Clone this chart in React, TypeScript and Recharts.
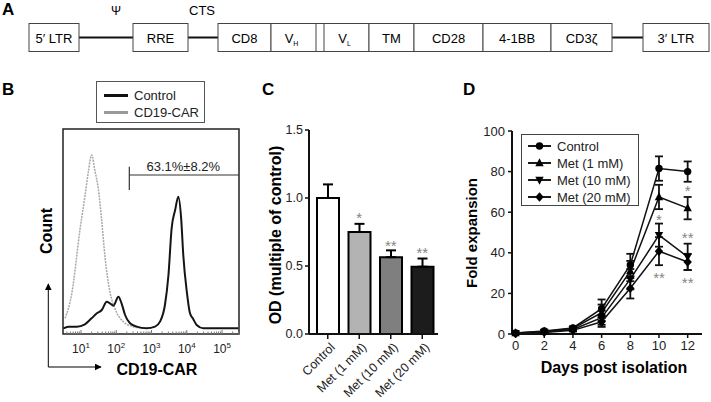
import React from 'react';
import {
  LineChart,
  Line,
  BarChart,
  Bar,
  Cell,
  XAxis,
  YAxis,
  ErrorBar,
  ReferenceArea,
  ReferenceLine,
  ReferenceDot,
  Legend,
} from 'recharts';

const FONT = '"Liberation Sans", Arial, Helvetica, sans-serif';

// ---------- A: vector construct ----------
const partLabels = ['5′ LTR', 'RRE', 'CD8', 'V|H', 'V|L', 'TM', 'CD28', '4-1BB', 'CD3ζ', '3′ LTR'];
const siteLabels = ['Ψ', 'CTS'];

// ---------- B: flow histogram (x = log10 fluorescence) ----------
const cd19Log = [0.55, 0.74, 0.97, 1.11, 1.21, 1.3, 1.4, 1.49, 1.59, 1.68, 1.82, 1.96, 2.2, 2.48, 2.77];
const cd19Count = [30, 105, 295, 395, 470, 520, 470, 420, 320, 215, 110, 60, 20, 5, 0];
const controlLog = [0.5, 0.64, 0.88, 1.11, 1.3, 1.45, 1.59, 1.73, 1.82, 1.92, 2.06, 2.15, 2.25, 2.39, 2.58, 2.86, 3.1, 3.24, 3.38, 3.48, 3.57, 3.67, 3.76, 3.84, 3.9, 4.0, 4.09, 4.17, 4.28, 4.47, 5.46];
const controlCount = [0, 5, 5, 12, 30, 45, 55, 80, 75, 68, 95, 75, 40, 15, 5, 0, 5, 20, 70, 160, 300, 355, 395, 330, 220, 110, 45, 30, 10, 0, 0];
const decades = [1, 2, 3, 4, 5];
const gateLog = 2.37;
const gateText = '63.1%±8.2%';

// ---------- C: OD ----------
const odGroups = ['Control', 'Met (1 mM)', 'Met (10 mM)', 'Met (20 mM)'];
const odMean = [1.0, 0.75, 0.565, 0.495];
const odSem = [0.1, 0.06, 0.05, 0.06];
const odSig = ['', '*', '**', '**'];
const odSigAt = [0, 0.875, 0.668, 0.618];
const odFill = ['#ffffff', '#b3b3b3', '#7f7f7f', '#1c1c1c'];

// ---------- D: fold expansion ----------
const days = [0, 2, 4, 6, 8, 10, 12];
const ctrlFold = [0.5, 1.5, 3.0, 12.5, 34, 81.5, 80];
const ctrlSd = [0.3, 0.5, 0.8, 4.5, 5.5, 6, 5];
const met1Fold = [0.5, 1.2, 2.7, 10.5, 31, 67.5, 62];
const met1Sd = [0.3, 0.5, 0.8, 4, 5, 6, 5.5];
const met10Fold = [0.4, 1.0, 2.2, 8, 27, 48.7, 38];
const met10Sd = [0.3, 0.4, 0.7, 3.5, 5, 5.7, 6.5];
const met20Fold = [0.3, 0.8, 1.8, 6, 22.5, 40.8, 35.5];
const met20Sd = [0.2, 0.4, 0.6, 2.5, 5, 6.9, 4];
const foldSigDay = [12, 10, 12, 10, 12];
const foldSigAt = [71.7, 57.7, 49, 29, 26.6];
const foldSig = ['*', '*', '**', '**', '**'];

const foldData = days.map((day, i) => ({
  day,
  control: ctrlFold[i],
  controlErr: ctrlSd[i],
  met1: met1Fold[i],
  met1Err: met1Sd[i],
  met10: met10Fold[i],
  met10Err: met10Sd[i],
  met20: met20Fold[i],
  met20Err: met20Sd[i],
}));

const foldSeries = [
  { key: 'control', name: 'Control', kind: 'circle' },
  { key: 'met1', name: 'Met (1 mM)', kind: 'up' },
  { key: 'met10', name: 'Met (10 mM)', kind: 'down' },
  { key: 'met20', name: 'Met (20 mM)', kind: 'diamond' },
];

// ---------------------------------------------------------------

function ConstructMap() {
  const boxes = [
    [29, 79], [133, 188], [218, 271], [271, 316], [324, 369],
    [369, 414], [414, 483], [483, 551], [551, 612], [643, 709],
  ];
  const links = [[79, 133], [188, 218], [612, 643]];
  const top = 23.5;
  const h = 28;
  return (
    <svg width={711} height={60} style={{ position: 'absolute', left: 0, top: 0 }}>
      <text x={2} y={15} fontSize={17} fontWeight="bold">A</text>
      <text x={116} y={15} fontSize={12} textAnchor="middle">{siteLabels[0]}</text>
      <text x={202} y={15} fontSize={13} textAnchor="middle">{siteLabels[1]}</text>
      {links.map(([a, b], i) => (
        <line key={i} x1={a} x2={b} y1={top + h / 2} y2={top + h / 2} stroke="#111" strokeWidth={2} />
      ))}
      <line x1={316} x2={324} y1={top} y2={top} stroke="#444" />
      <line x1={316} x2={324} y1={top + h} y2={top + h} stroke="#444" />
      {boxes.map(([a, b], i) => {
        const [main, sub] = partLabels[i].split('|');
        const cx = (a + b) / 2;
        return (
          <g key={i}>
            <rect x={a} y={top} width={b - a} height={h} fill="#fff" stroke="#444" strokeWidth={1} />
            {sub ? (
              <text x={cx - 2} y={top + 19} fontSize={13} textAnchor="middle">
                {main}
                <tspan fontSize={7} dy={3}>{sub}</tspan>
              </text>
            ) : (
              <text x={cx} y={top + 19} fontSize={13} textAnchor="middle">{main}</text>
            )}
          </g>
        );
      })}
    </svg>
  );
}

// ---------- B ----------
const flowTicks: number[] = [];
decades.forEach((d) => {
  flowTicks.push(d - 1 + Math.log10(1));
});
const allFlowTicks: number[] = [];
[0, 1, 2, 3, 4, 5].forEach((n) => {
  for (let k = 1; k <= 9; k++) {
    const v = n + Math.log10(k);
    if (v >= 0.49 && v <= 5.48) allFlowTicks.push(Number(v.toFixed(4)));
  }
});

function FlowTick(props: any) {
  const { x, y, payload } = props;
  const v = payload.value;
  const major = Math.abs(v - Math.round(v)) < 1e-6;
  return (
    <g>
      <line x1={x} x2={x} y1={y} y2={y - (major ? 4 : 2.5)} stroke="#777" strokeWidth={1} />
      {major && (
        <text x={x} y={y + 19} textAnchor="middle" fontSize={12} fill="#222">
          10<tspan dy={-5} fontSize={8}>{Math.round(v)}</tspan>
        </text>
      )}
    </g>
  );
}

function FlowLegend() {
  const rows = [
    { name: 'Control', color: '#111' },
    { name: 'CD19-CAR', color: '#9a9a9a' },
  ];
  return (
    <div style={{ border: '1px solid #555', width: 107, height: 40, position: 'relative', background: '#fff' }}>
      {rows.map((r, i) => (
        <div key={i} style={{ position: 'absolute', left: 7, top: 6 + i * 17, height: 15, display: 'flex', alignItems: 'center' }}>
          <div style={{ width: 24, height: 3, background: r.color, marginRight: 6 }} />
          <span style={{ fontSize: 13, color: '#222' }}>{r.name}</span>
        </div>
      ))}
    </div>
  );
}

function FlowPanel() {
  const cd19Data = cd19Log.map((x, i) => ({ x, y: cd19Count[i] }));
  const controlData = controlLog.map((x, i) => ({ x, y: controlCount[i] }));
  return (
    <LineChart width={260} height={322} margin={{ top: 49, right: 21, bottom: 38, left: 63 }}>
      <XAxis
        type="number"
        dataKey="x"
        domain={[0.49, 5.48]}
        ticks={allFlowTicks}
        interval={0}
        tick={<FlowTick />}
        tickLine={false}
        axisLine={false}
        tickSize={0}
        tickMargin={0}
        height={30}
        allowDataOverflow
      />
      <YAxis hide type="number" domain={[-17, 598]} allowDataOverflow />
      <ReferenceArea x1={0.49} x2={5.48} y1={-17} y2={598} fill="none" stroke="#222" strokeWidth={1.5} />
      <Line
        data={cd19Data}
        dataKey="y"
        type="monotone"
        stroke="#a8a8a8"
        strokeWidth={1.5}
        strokeDasharray="2 1"
        dot={false}
        isAnimationActive={false}
      />
      <Line
        data={controlData}
        dataKey="y"
        type="monotone"
        stroke="#151515"
        strokeWidth={2}
        dot={false}
        isAnimationActive={false}
      />
      <ReferenceLine segment={[{ x: gateLog, y: 415 }, { x: gateLog, y: 485 }]} stroke="#333" strokeWidth={1.2} />
      <ReferenceLine segment={[{ x: gateLog, y: 460 }, { x: 5.48, y: 460 }]} stroke="#333" strokeWidth={1.2} />
      <ReferenceDot
        x={3.9}
        y={473}
        r={0}
        shape={(p: any) => (
          <text x={p.cx} y={p.cy} textAnchor="middle" fontSize={13} fill="#222">{gateText}</text>
        )}
      />
      <Legend
        layout="horizontal"
        verticalAlign="middle"
        align="center"
        content={() => <FlowLegend />}
        wrapperStyle={{ left: 96, top: 1, width: 109, height: 42 }}
      />
    </LineChart>
  );
}

// ---------- C ----------
function RotTick(props: any) {
  const { x, y, payload } = props;
  const ax = x + 8;
  const ay = y + 9;
  return (
    <text x={ax} y={ay} transform={`rotate(-45 ${ax} ${ay})`} textAnchor="end" fontSize={12.5} fill="#222">
      {payload.value}
    </text>
  );
}

function StarShape(props: any) {
  const { cx, cy, label } = props;
  return (
    <text x={cx} y={cy + 8} textAnchor="middle" fontSize={15} fill="#858585">{label}</text>
  );
}

function ViabilityPanel() {
  const data = odGroups.map((g, i) => ({ group: g, od: odMean[i], err: [0, odSem[i]] }));
  return (
    <BarChart width={200} height={322} data={data} margin={{ top: 50, right: 22, bottom: 8, left: 0 }}>
      <XAxis
        dataKey="group"
        interval={0}
        padding={{ left: 3, right: 0 }}
        tick={<RotTick />}
        tickSize={5}
        tickMargin={0}
        height={60}
        axisLine={{ stroke: '#111', strokeWidth: 2 }}
        tickLine={{ stroke: '#111', strokeWidth: 1.5 }}
      />
      <YAxis
        domain={[0, 1.5]}
        ticks={[0, 0.5, 1, 1.5]}
        tickFormatter={(v: number) => v.toFixed(1)}
        width={49}
        tickSize={4}
        tickMargin={2}
        tick={{ fontSize: 12.5, fill: '#222' }}
        axisLine={{ stroke: '#111', strokeWidth: 2 }}
        tickLine={{ stroke: '#111', strokeWidth: 1.5 }}
      />
      <Bar dataKey="od" barSize={22} stroke="#000" strokeWidth={2} isAnimationActive={false}>
        {data.map((d, i) => (
          <Cell key={d.group} fill={odFill[i]} />
        ))}
        <ErrorBar dataKey="err" width={5} stroke="#000" strokeWidth={2} direction="y" />
      </Bar>
      {odGroups.map((g, i) =>
        odSig[i] ? (
          <ReferenceDot key={g} x={g} y={odSigAt[i]} r={0} shape={(p: any) => <StarShape {...p} label={odSig[i]} />} />
        ) : null,
      )}
    </BarChart>
  );
}

// ---------- D ----------
function markerPath(kind: string, cx: number, cy: number) {
  const s = 4.2;
  switch (kind) {
    case 'circle':
      return <circle cx={cx} cy={cy} r={3.7} fill="#000" />;
    case 'up':
      return <path d={`M${cx},${cy - s - 0.5}L${cx + s},${cy + s - 1}L${cx - s},${cy + s - 1}Z`} fill="#000" />;
    case 'down':
      return <path d={`M${cx},${cy + s + 0.5}L${cx + s},${cy - s + 1}L${cx - s},${cy - s + 1}Z`} fill="#000" />;
    default:
      return <path d={`M${cx},${cy - s - 0.5}L${cx + s},${cy}L${cx},${cy + s + 0.5}L${cx - s},${cy}Z`} fill="#000" />;
  }
}

function makeDot(kind: string) {
  return (p: any) => {
    const { cx, cy, index } = p;
    if (cx == null || cy == null) return <g key={index} />;
    return <g key={index}>{markerPath(kind, cx, cy)}</g>;
  };
}

function FoldLegend() {
  return (
    <div style={{ border: '1px solid #444', width: 116, height: 70, position: 'relative', background: '#fff' }}>
      {foldSeries.map((s, i) => (
        <div key={s.key} style={{ position: 'absolute', left: 6, top: 3 + i * 17, height: 16, display: 'flex', alignItems: 'center' }}>
          <svg width={23} height={12} style={{ marginRight: 6 }}>
            <line x1={0} x2={23} y1={6} y2={6} stroke="#000" strokeWidth={1.8} />
            {markerPath(s.kind, 11.5, 6)}
          </svg>
          <span style={{ fontSize: 13, color: '#222', whiteSpace: 'nowrap' }}>{s.name}</span>
        </div>
      ))}
    </div>
  );
}

function ExpansionPanel() {
  return (
    <LineChart width={251} height={322} data={foldData} margin={{ top: 51, right: 9, bottom: 38, left: 0 }}>
      <XAxis
        type="number"
        dataKey="day"
        domain={[-0.25, 13]}
        ticks={days}
        interval={0}
        tickSize={4}
        tickMargin={3}
        height={30}
        tick={{ fontSize: 13, fill: '#222' }}
        axisLine={{ stroke: '#111', strokeWidth: 2 }}
        tickLine={{ stroke: '#111', strokeWidth: 1.5 }}
      />
      <YAxis
        domain={[0, 100]}
        ticks={[0, 20, 40, 60, 80, 100]}
        width={52}
        tickSize={4}
        tickMargin={3}
        tick={{ fontSize: 13, fill: '#222' }}
        axisLine={{ stroke: '#111', strokeWidth: 2 }}
        tickLine={{ stroke: '#111', strokeWidth: 1.5 }}
      />
      {foldSeries.map((s) => (
        <Line
          key={s.key}
          dataKey={s.key}
          name={s.name}
          type="linear"
          stroke="#111"
          strokeWidth={1.5}
          dot={makeDot(s.kind)}
          activeDot={false}
          isAnimationActive={false}
        >
          <ErrorBar dataKey={`${s.key}Err`} width={4} stroke="#111" strokeWidth={1.8} direction="y" />
        </Line>
      ))}
      {foldSig.map((t, i) => (
        <ReferenceDot
          key={i}
          x={foldSigDay[i]}
          y={foldSigAt[i]}
          r={0}
          shape={(p: any) => <StarShape {...p} label={t} />}
        />
      ))}
      <Legend
        layout="horizontal"
        verticalAlign="middle"
        align="center"
        content={() => <FoldLegend />}
        wrapperStyle={{ left: 61, top: 54, width: 118, height: 72 }}
      />
    </LineChart>
  );
}

function Overlay() {
  return (
    <svg width={711} height={402} style={{ position: 'absolute', left: 0, top: 0, pointerEvents: 'none' }}>
      <defs>
        <marker id="arrowHead" viewBox="0 0 10 10" refX="9" refY="5" markerWidth="7" markerHeight="7" orient="auto">
          <path d="M0,0L10,5L0,10Z" fill="#000" />
        </marker>
      </defs>
      <text x={2} y={95} fontSize={17} fontWeight="bold">B</text>
      <text x={262} y={95} fontSize={17} fontWeight="bold">C</text>
      <text x={463} y={95} fontSize={17} fontWeight="bold">D</text>

      <line x1={48.3} y1={367} x2={48.3} y2={284} stroke="#000" strokeWidth={1} markerEnd="url(#arrowHead)" />
      <line x1={48.3} y1={367} x2={101} y2={367} stroke="#000" strokeWidth={1} markerEnd="url(#arrowHead)" />
      <text x={46} y={231} fontSize={16} fontWeight="bold" textAnchor="middle" dominantBaseline="central" transform="rotate(-90 46 231)">Count</text>
      <text x={116.5} y={375} fontSize={16} fontWeight="bold">CD19-CAR</text>

      <text x={275} y={235} fontSize={16} fontWeight="bold" textAnchor="middle" dominantBaseline="central" transform="rotate(-90 275 235)">OD (multiple of control)</text>

      <text x={471} y={233} fontSize={15} fontWeight="bold" textAnchor="middle" dominantBaseline="central" transform="rotate(-90 471 233)">Fold expansion</text>
      <text x={614} y={373} fontSize={16} fontWeight="bold" textAnchor="middle">Days post isolation</text>
    </svg>
  );
}

export default function App() {
  return (
    <div style={{ position: 'relative', width: 711, height: 402, fontFamily: FONT, background: '#fff', overflow: 'hidden', color: '#111' }}>
      <style>{'body{margin:0}'}</style>
      <ConstructMap />
      <div style={{ position: 'absolute', left: 0, top: 80 }}>
        <FlowPanel />
      </div>
      <div style={{ position: 'absolute', left: 260, top: 80 }}>
        <ViabilityPanel />
      </div>
      <div style={{ position: 'absolute', left: 460, top: 80 }}>
        <ExpansionPanel />
      </div>
      <Overlay />
    </div>
  );
}
